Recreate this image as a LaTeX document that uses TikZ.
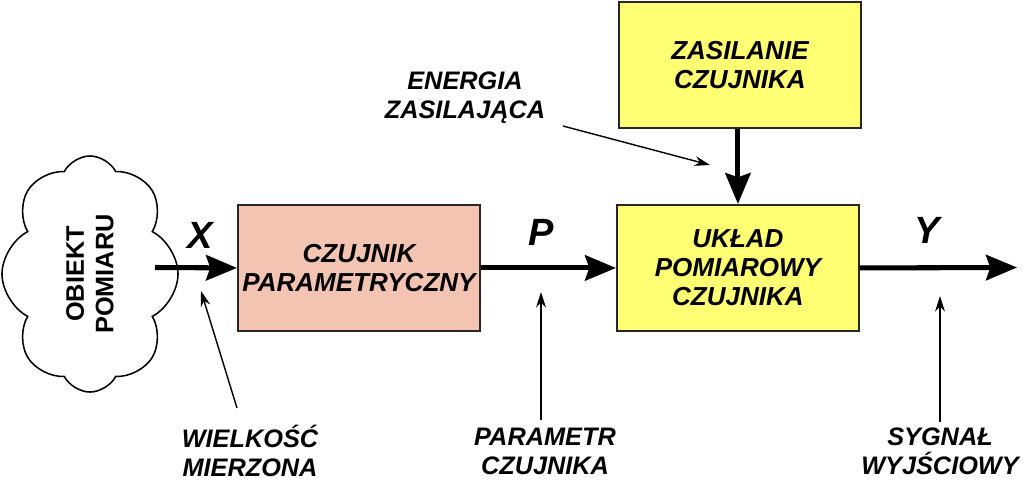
\documentclass[tikz,border=0pt]{standalone}
\usepackage{fontspec}
\setmainfont{Liberation Sans}
\usetikzlibrary{positioning,arrows.meta,calc,shapes.symbols}
\definecolor{czpink}{RGB}{244,196,178}
\definecolor{ukyellow}{RGB}{255,255,115}
\tikzset{
  blk/.style={draw=black!85, line width=1.3pt, minimum width=6.05cm, minimum height=3.15cm,
              align=center, anchor=north west, inner sep=1pt,
              font=\fontsize{18.5}{20.5}\selectfont\bfseries\itshape},
  czblk/.style={blk, fill=czpink},
  ukblk/.style={blk, fill=ukyellow},
  obj/.style={cloud, draw, line width=1.1pt, cloud puffs=8, cloud puff arc=125,
              cloud ignores aspect, minimum width=5.9cm, minimum height=4.4cm,
              rotate=90, align=center, font=\fontsize{18}{21}\selectfont\bfseries},
  sym/.style={font=\fontsize{27}{30}\selectfont\bfseries\itshape},
  lbl/.style={align=center, font=\fontsize{18}{20.5}\selectfont\bfseries\itshape},
  bigarrow/.style={-{Stealth[length=22pt, width=18pt, inset=3pt]}, line width=3.6pt},
  thinarrow/.style={-{Stealth[length=11pt, width=7pt]}, line width=1pt}
}

\begin{document}
\begin{tikzpicture}[x=0.025cm, y=-0.025cm]
\useasboundingbox (0,0) rectangle (1024,481);
% bloki
\node[obj] (ob) at (90,274) {OBIEKT\\POMIARU};
\node[czblk] (czp) at (237,204) {CZUJNIK\\PARAMETRYCZNY};
\node[ukblk] (zas) at (618,1) {ZASILANIE\\CZUJNIKA};
\node[ukblk] (ukl) at (616,204) {UKŁAD\\POMIAROWY\\CZUJNIKA};
% symbole
\node[sym] (sx) at (200,235) {X};
\node[sym] (sp) at (541,232) {P};
\node[sym] (sy) at (927,230) {Y};
% opisy
\node[lbl] (ene) at (465,98) {ENERGIA\\ZASILAJĄCA};
\node[lbl] (wlk) at (250,451) {WIELKOŚĆ\\MIERZONA};
\node[lbl] (par) at (545,451) {PARAMETR\\CZUJNIKA};
\node[lbl] (syg) at (940,451) {SYGNAŁ\\WYJŚCIOWY};
% punkty
\coordinate (xin) at (155,267.5);
\coordinate (yout) at (1017,267.5);
\coordinate (ene-a) at (563,126);
\coordinate (ene-b) at (710,165);
\coordinate (wlk-a) at (237,408);
\coordinate (wlk-b) at (201,291);
\coordinate (par-a) at (541,420);
\coordinate (par-b) at (541,292);
\coordinate (syg-a) at (940,422);
\coordinate (syg-b) at (940,296);
% strzalki
\draw[bigarrow] (xin) -- (czp.west);
\draw[bigarrow] (czp.east) -- (ukl.west);
\draw[bigarrow] (ukl.east) -- (yout);
\draw[bigarrow] (zas.south -| ukl.north) -- (ukl.north);
\draw[thinarrow] (ene-a) -- (ene-b);
\draw[thinarrow] (wlk-a) -- (wlk-b);
\draw[thinarrow] (par-a) -- (par-b);
\draw[thinarrow] (syg-a) -- (syg-b);
\end{tikzpicture}
\end{document}
